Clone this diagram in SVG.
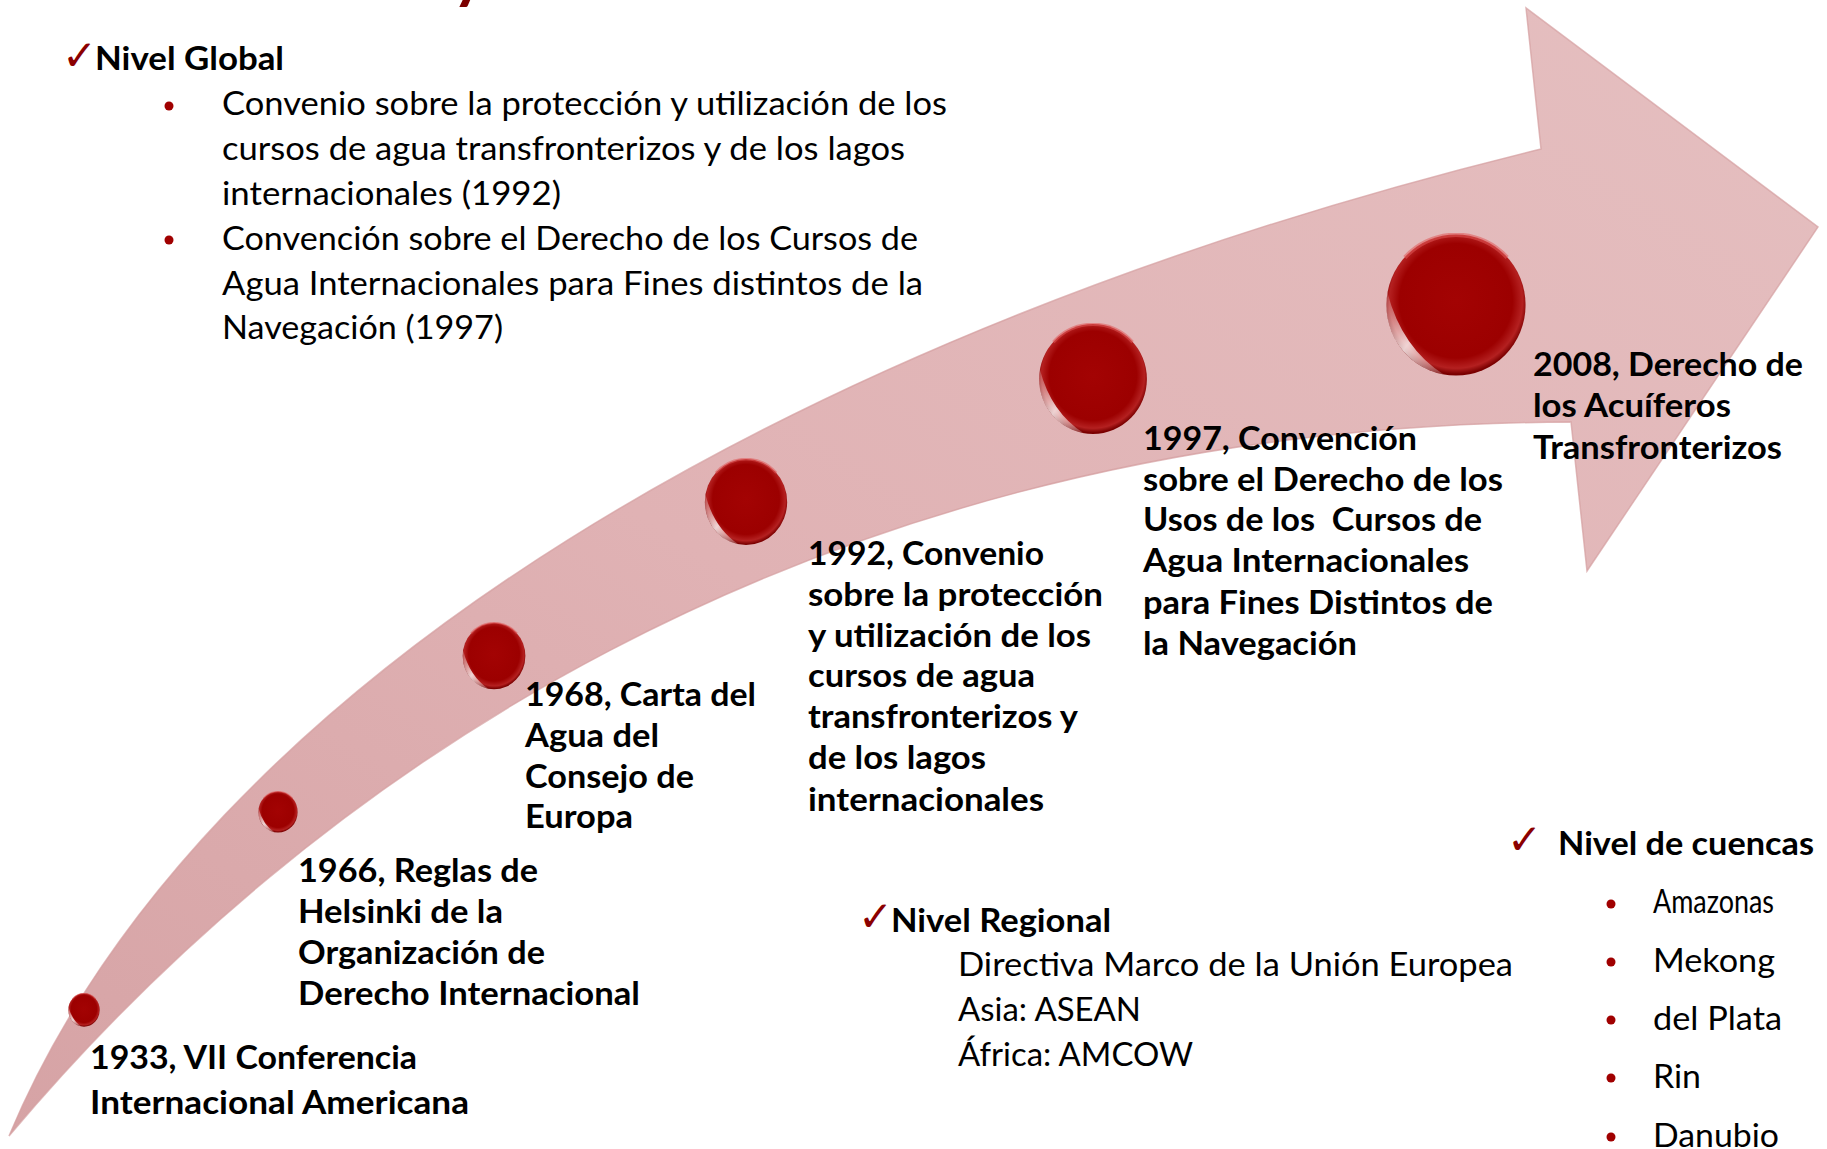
<svg xmlns="http://www.w3.org/2000/svg" xmlns:xlink="http://www.w3.org/1999/xlink" width="1827" height="1149" viewBox="0 0 1827 1149">
<style>
  text { font-family: Lato, "Liberation Sans", sans-serif; fill: #000; }
  .b { font-weight: 700; font-size: 33px; }
  .r { font-weight: 400; font-size: 33px; }
  .chk { font-family: "DejaVu Sans", sans-serif; font-weight: 700; font-size: 42px; fill: #8b0000; }
  .dot { fill: #a00000; }
</style>
<defs>
  <linearGradient id="arrowFill" x1="0" y1="1" x2="1" y2="0">
    <stop offset="0" stop-color="#d6a3a5"/>
    <stop offset="0.45" stop-color="#e0b2b4"/>
    <stop offset="1" stop-color="#e5bfc0"/>
  </linearGradient>
  <radialGradient id="ballFill" cx="0.5" cy="0.47" r="0.52">
    <stop offset="0" stop-color="#a30303"/>
    <stop offset="0.78" stop-color="#9c0000"/>
    <stop offset="0.92" stop-color="#b42020"/>
    <stop offset="1" stop-color="#7a0000"/>
  </radialGradient>
  <linearGradient id="hl" x1="0" y1="0" x2="1" y2="1">
    <stop offset="0" stop-color="#ffffff" stop-opacity="0.2"/>
    <stop offset="0.5" stop-color="#ffffff" stop-opacity="0.95"/>
    <stop offset="1" stop-color="#ffffff" stop-opacity="0.2"/>
  </linearGradient>
  <symbol id="ball" viewBox="-50 -50 100 100" preserveAspectRatio="none">
    <circle r="49" fill="url(#ballFill)"/>
    <path d="M -8.5 48.3 A 49 49 0 0 1 -48.3 -8.5 Q -38 30 -8.5 48.3 Z" fill="url(#hl)" opacity="0.85"/>
    <path d="M -36 -33 A 49 49 0 0 1 36 -33" fill="none" stroke="#e05858" stroke-width="3" opacity="0.55"/>
  </symbol>
</defs>

<rect width="1827" height="1149" fill="#ffffff"/>

<!-- cut-off title fragment -->
<text x="452" y="-3" style="font-family: Lato, sans-serif; font-weight:700; font-size:64px; fill:#7b0000;">y</text>

<g id="connectors">
  <path id="timeline-arrow" d="M 9 1136 C 200 680 800 330 1541 149 L 1526 8 L 1818 227 L 1587 571 L 1571 422 C 800 425 300 790 9 1136 Z" fill="url(#arrowFill)" stroke="#d49ea0" stroke-width="1.5" stroke-opacity="0.7"/>
</g>

<g id="nivel-global">
  <text class="chk" x="62" y="70">✓</text>
  <text class="b" x="95" y="70" textLength="189" lengthAdjust="spacingAndGlyphs">Nivel Global</text>
  <circle class="dot" cx="169" cy="106" r="4.5"/>
  <text class="r" x="222" y="115" textLength="725" lengthAdjust="spacingAndGlyphs">Convenio sobre la protección y utilización de los</text>
  <text class="r" x="222" y="160" textLength="683" lengthAdjust="spacingAndGlyphs">cursos de agua transfronterizos y de los lagos</text>
  <text class="r" x="222" y="205" textLength="339" lengthAdjust="spacingAndGlyphs">internacionales (1992)</text>
  <circle class="dot" cx="169" cy="240" r="4.5"/>
  <text class="r" x="222" y="250" textLength="696" lengthAdjust="spacingAndGlyphs">Convención sobre el Derecho de los Cursos de</text>
  <text class="r" x="222" y="295" textLength="701" lengthAdjust="spacingAndGlyphs">Agua Internacionales para Fines distintos de la</text>
  <text class="r" x="222" y="339" textLength="281" lengthAdjust="spacingAndGlyphs">Navegación (1997)</text>
</g>

<g id="hito-1933">
  <use href="#ball" x="68" y="993" width="32" height="34"/>
  <text class="b" x="90" y="1069" textLength="327" lengthAdjust="spacingAndGlyphs">1933, VII Conferencia</text>
  <text class="b" x="90" y="1114" textLength="379" lengthAdjust="spacingAndGlyphs">Internacional Americana</text>
</g>

<g id="hito-1966">
  <use href="#ball" x="258" y="791" width="40" height="42"/>
  <text class="b" x="298" y="882" textLength="240" lengthAdjust="spacingAndGlyphs">1966, Reglas de</text>
  <text class="b" x="298" y="923" textLength="205" lengthAdjust="spacingAndGlyphs">Helsinki de la</text>
  <text class="b" x="298" y="964" textLength="247" lengthAdjust="spacingAndGlyphs">Organización de</text>
  <text class="b" x="298" y="1005" textLength="342" lengthAdjust="spacingAndGlyphs">Derecho Internacional</text>
</g>

<g id="hito-1968">
  <use href="#ball" x="462" y="622" width="64" height="68"/>
  <text class="b" x="525" y="706" textLength="231" lengthAdjust="spacingAndGlyphs">1968, Carta del</text>
  <text class="b" x="525" y="747" textLength="134" lengthAdjust="spacingAndGlyphs">Agua del</text>
  <text class="b" x="525" y="788" textLength="169" lengthAdjust="spacingAndGlyphs">Consejo de</text>
  <text class="b" x="525" y="828" textLength="108" lengthAdjust="spacingAndGlyphs">Europa</text>
</g>

<g id="hito-1992">
  <use href="#ball" x="704" y="458" width="84" height="88"/>
  <text class="b" x="808" y="565" textLength="236" lengthAdjust="spacingAndGlyphs">1992, Convenio</text>
  <text class="b" x="808" y="606" textLength="295" lengthAdjust="spacingAndGlyphs">sobre la protección</text>
  <text class="b" x="808" y="647" textLength="283" lengthAdjust="spacingAndGlyphs">y utilización de los</text>
  <text class="b" x="808" y="687" textLength="227" lengthAdjust="spacingAndGlyphs">cursos de agua</text>
  <text class="b" x="808" y="728" textLength="270" lengthAdjust="spacingAndGlyphs">transfronterizos y</text>
  <text class="b" x="808" y="769" textLength="178" lengthAdjust="spacingAndGlyphs">de los lagos</text>
  <text class="b" x="808" y="811" textLength="236" lengthAdjust="spacingAndGlyphs">internacionales</text>
</g>

<g id="hito-1997">
  <use href="#ball" x="1038" y="323" width="110" height="112"/>
  <text class="b" x="1143" y="450" textLength="274" lengthAdjust="spacingAndGlyphs">1997, Convención</text>
  <text class="b" x="1143" y="491" textLength="360" lengthAdjust="spacingAndGlyphs">sobre el Derecho de los</text>
  <text class="b" x="1143" y="531" textLength="339" lengthAdjust="spacingAndGlyphs" xml:space="preserve">Usos de los  Cursos de</text>
  <text class="b" x="1143" y="572" textLength="326" lengthAdjust="spacingAndGlyphs">Agua Internacionales</text>
  <text class="b" x="1143" y="614" textLength="350" lengthAdjust="spacingAndGlyphs">para Fines Distintos de</text>
  <text class="b" x="1143" y="655" textLength="214" lengthAdjust="spacingAndGlyphs">la Navegación</text>
</g>

<g id="hito-2008">
  <use href="#ball" x="1385" y="233" width="142" height="144"/>
  <text class="b" x="1533" y="376" textLength="270" lengthAdjust="spacingAndGlyphs">2008, Derecho de</text>
  <text class="b" x="1533" y="417" textLength="198" lengthAdjust="spacingAndGlyphs">los Acuíferos</text>
  <text class="b" x="1533" y="459" textLength="249" lengthAdjust="spacingAndGlyphs">Transfronterizos</text>
</g>

<g id="nivel-regional">
  <text class="chk" x="858" y="931">✓</text>
  <text class="b" x="891" y="932" textLength="220" lengthAdjust="spacingAndGlyphs">Nivel Regional</text>
  <text class="r" x="958" y="976" textLength="555" lengthAdjust="spacingAndGlyphs">Directiva Marco de la Unión Europea</text>
  <text class="r" x="958" y="1021" textLength="183" lengthAdjust="spacingAndGlyphs">Asia: ASEAN</text>
  <text class="r" x="958" y="1066" textLength="235" lengthAdjust="spacingAndGlyphs">África: AMCOW</text>
</g>

<g id="nivel-cuencas">
  <text class="chk" x="1507" y="854">✓</text>
  <text class="b" x="1558" y="855" textLength="256" lengthAdjust="spacingAndGlyphs">Nivel de cuencas</text>
  <circle class="dot" cx="1611" cy="904" r="4.5"/>
  <text class="r" x="1653" y="913" textLength="121" lengthAdjust="spacingAndGlyphs">Amazonas</text>
  <circle class="dot" cx="1611" cy="962" r="4.5"/>
  <text class="r" x="1653" y="972" textLength="122" lengthAdjust="spacingAndGlyphs">Mekong</text>
  <circle class="dot" cx="1611" cy="1020" r="4.5"/>
  <text class="r" x="1653" y="1030" textLength="129" lengthAdjust="spacingAndGlyphs">del Plata</text>
  <circle class="dot" cx="1611" cy="1078" r="4.5"/>
  <text class="r" x="1653" y="1088" textLength="48" lengthAdjust="spacingAndGlyphs">Rin</text>
  <circle class="dot" cx="1611" cy="1137" r="4.5"/>
  <text class="r" x="1653" y="1147" textLength="126" lengthAdjust="spacingAndGlyphs">Danubio</text>
</g>
</svg>
